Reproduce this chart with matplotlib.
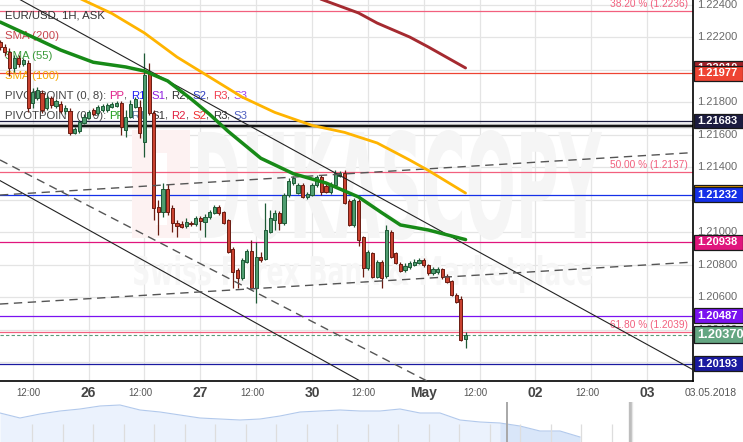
import matplotlib
matplotlib.use("Agg")
import matplotlib.pyplot as plt
import numpy as np
from matplotlib.patches import Rectangle, PathPatch
from matplotlib.textpath import TextPath
from matplotlib.font_manager import FontProperties
from matplotlib.transforms import Affine2D, blended_transform_factory

plt.rcParams['font.family'] = ['Liberation Sans', 'DejaVu Sans']

# ---------------- data ----------------
hours = list(range(-19, 82))   # hours since 26 Apr 00:00 (trading time)
opens = [
    1.22170, 1.22139, 1.22108, 1.22010, 1.22072, 1.22035, 1.22041, 1.21795, 1.21826, 1.21856,
    1.21764, 1.21826, 1.21777, 1.21789, 1.21746, 1.21746, 1.21611, 1.21623, 1.21672, 1.21703,
    1.21752, 1.21734, 1.21752, 1.21752, 1.21770, 1.21777, 1.21795, 1.21629, 1.21709, 1.21770,
    1.21770, 1.21555, 1.21979, 1.21734, 1.21156, 1.21125, 1.21266, 1.21150, 1.21057, 1.21050,
    1.21039, 1.21059, 1.21051, 1.21086, 1.21065, 1.21092, 1.21121, 1.21158, 1.21123, 1.21076,
    1.20896, 1.20769, 1.20718, 1.20820, 1.20885, 1.20660, 1.20850, 1.20834, 1.21004, 1.21076,
    1.21121, 1.21056, 1.21230, 1.21302, 1.21244, 1.21291, 1.21219, 1.21230, 1.21291, 1.21342,
    1.21285, 1.21246, 1.21291, 1.21346, 1.21363, 1.21193, 1.21045, 1.21193, 1.20970, 1.20779,
    1.20871, 1.20727, 1.20820, 1.20732, 1.21004, 1.20871, 1.20805, 1.20769, 1.20785, 1.20799,
    1.20810, 1.20830, 1.20799, 1.20748, 1.20754, 1.20773, 1.20732, 1.20701, 1.20615, 1.20590,
    1.20343]
closes = [
    1.22139, 1.22108, 1.22010, 1.22072, 1.22035, 1.22059, 1.21764, 1.21863, 1.21875, 1.21752,
    1.21826, 1.21783, 1.21807, 1.21746, 1.21764, 1.21611, 1.21635, 1.21678, 1.21709, 1.21740,
    1.21727, 1.21770, 1.21777, 1.21783, 1.21789, 1.21795, 1.21648, 1.21709, 1.21789, 1.21820,
    1.21611, 1.21967, 1.21734, 1.21150, 1.21125, 1.21266, 1.21125, 1.21057, 1.21039, 1.21035,
    1.21065, 1.21050, 1.21086, 1.21072, 1.21096, 1.21127, 1.21158, 1.21117, 1.21059, 1.20881,
    1.20758, 1.20718, 1.20830, 1.20885, 1.20660, 1.20850, 1.20830, 1.21014, 1.21086, 1.21121,
    1.21056, 1.21230, 1.21317, 1.21332, 1.21291, 1.21219, 1.21236, 1.21291, 1.21342, 1.21250,
    1.21250, 1.21291, 1.21363, 1.21365, 1.21182, 1.21045, 1.21199, 1.20953, 1.20779, 1.20881,
    1.20727, 1.20820, 1.20718, 1.21014, 1.20850, 1.20813, 1.20764, 1.20793, 1.20810, 1.20820,
    1.20830, 1.20799, 1.20748, 1.20773, 1.20775, 1.20724, 1.20697, 1.20615, 1.20574, 1.20338,
    1.20370]
highs = [
    1.22182, 1.22158, 1.22133, 1.22090, 1.22090, 1.22072, 1.22059, 1.21887, 1.21893, 1.21875,
    1.21844, 1.21838, 1.21820, 1.21807, 1.21783, 1.21764, 1.21648, 1.21691, 1.21727, 1.21752,
    1.21764, 1.21783, 1.21789, 1.21795, 1.21801, 1.21807, 1.21807, 1.21752, 1.21813, 1.21832,
    1.21813, 1.22102, 1.22041, 1.21752, 1.21199, 1.21303, 1.21297, 1.21168, 1.21076, 1.21070,
    1.21088, 1.21070, 1.21100, 1.21100, 1.21113, 1.21137, 1.21168, 1.21168, 1.21131, 1.21082,
    1.20910, 1.20781, 1.20842, 1.20898, 1.20953, 1.20943, 1.20881, 1.21180, 1.21137, 1.21137,
    1.21131, 1.21242, 1.21334, 1.21346, 1.21303, 1.21303, 1.21248, 1.21303, 1.21352, 1.21352,
    1.21297, 1.21309, 1.21383, 1.21377, 1.21383, 1.21205, 1.21211, 1.21205, 1.20978, 1.20892,
    1.20879, 1.20830, 1.20830, 1.21045, 1.21014, 1.20879, 1.20818, 1.20812, 1.20824, 1.20836,
    1.20842, 1.20842, 1.20805, 1.20787, 1.20787, 1.20781, 1.20744, 1.20707, 1.20627, 1.20609,
    1.20388]
lows = [
    1.22121, 1.22084, 1.21961, 1.21986, 1.22016, 1.22022, 1.21740, 1.21764, 1.21813, 1.21734,
    1.21752, 1.21764, 1.21764, 1.21734, 1.21727, 1.21598, 1.21604, 1.21611, 1.21666, 1.21697,
    1.21715, 1.21721, 1.21740, 1.21740, 1.21764, 1.21770, 1.21598, 1.21586, 1.21703, 1.21764,
    1.21580, 1.21463, 1.21721, 1.21076, 1.20984, 1.21094, 1.21107, 1.21002, 1.20971, 1.21027,
    1.21027, 1.21039, 1.21039, 1.21014, 1.20973, 1.21082, 1.21113, 1.21107, 1.21051, 1.20873,
    1.20658, 1.20658, 1.20707, 1.20812, 1.20652, 1.20566, 1.20818, 1.20830, 1.20996, 1.21014,
    1.21014, 1.21045, 1.21217, 1.21291, 1.21236, 1.21211, 1.21205, 1.21223, 1.21279, 1.21230,
    1.21242, 1.21236, 1.21285, 1.21340, 1.21174, 1.21039, 1.21033, 1.20916, 1.20727, 1.20769,
    1.20719, 1.20719, 1.20658, 1.20719, 1.20842, 1.20805, 1.20756, 1.20756, 1.20775, 1.20793,
    1.20805, 1.20787, 1.20738, 1.20738, 1.20744, 1.20713, 1.20689, 1.20609, 1.20566, 1.20332,
    1.20289]

sma55_h = [-19, -12, -6, 1, 8, 12, 17, 22, 26, 30, 37, 44, 51, 58, 63, 67, 73, 81]
sma55_v = [1.22292, 1.22200, 1.22120, 1.22045, 1.22016, 1.21991, 1.21930, 1.21820, 1.21725,
           1.21620, 1.21455, 1.21360, 1.21303, 1.21217, 1.21120, 1.21045, 1.21014, 1.20955]
sma100_h = [-3, 5, 12, 19, 26, 33, 40, 48, 55, 62, 69, 73, 81]
sma100_v = [1.22452, 1.22345, 1.22225, 1.22077, 1.21954, 1.21831, 1.21737, 1.21657, 1.21614,
            1.21549, 1.21444, 1.21380, 1.21241]
sma200_h = [48, 50, 58, 62, 69, 73, 81]
sma200_v = [1.22455, 1.22432, 1.22348, 1.22286, 1.22200, 1.22139, 1.22010]

# trend lines: two anchors (hour, price) each
trend_solid = [[(-16, 1.22450), (129, 1.20169)], [(-19, 1.21317), (51, 1.20203)]]
trend_dashed = [[(-19, 1.21444), (64, 1.20215)],
                [(-19, 1.21229), (130, 1.21490)],
                [(-19, 1.20559), (130, 1.20817)]]

fib_levels = [1.2236, 1.2137, 1.2039]
fib_names = ['38.20 %', '50.00 %', '61.80 %']

level_values = [1.21977, 1.21683, 1.21232, 1.20938, 1.20487, 1.20193]
level_colors = ['#ee4433', '#1c1c40', '#1530e8', '#e0157d', '#7a12f0', '#1a1aa0']
extra_black_level = 1.21652
current_price = 1.20370

grid_prices = [1.224, 1.222, 1.220, 1.218, 1.216, 1.214, 1.212, 1.210, 1.208, 1.206, 1.204, 1.202]
price_labels = [1.224, 1.222, 1.218, 1.216, 1.214, 1.210, 1.208, 1.206, 1.204]
day_ticks = [0, 24, 48, 72, 96, 120]
day_labels = ['26', '27', '30', 'May', '02', '03']
half_ticks = [-12, 12, 36, 60, 84, 108, 132]

nav_values = [29, 24, 28, 31, 33, 36, 37, 32, 30, 27, 24, 23, 22, 23, 26, 30, 31, 32, 31, 31,
              33, 29, 29, 22, 20, 19, 16, 11, 11, 5]

# ---------------- figure ----------------
W, H = 743, 442
fig = plt.figure(figsize=(W / 100, H / 100), dpi=100)
AX_W, AX_H = 693, 381
ax = fig.add_axes([0, (H - AX_H) / H, AX_W / W, AX_H / H])
XMIN, XMAX = -19.04, 129.87
YMIN, YMAX = 1.200859, 1.224277
ax.set_xlim(XMIN, XMAX)
ax.set_ylim(YMIN, YMAX)
ax.set_xticks([]); ax.set_yticks([])
for s in ['top', 'left']:
    ax.spines[s].set_visible(False)
for s in ['right', 'bottom']:
    ax.spines[s].set_linewidth(1.2)
    ax.spines[s].set_color('black')


def pa(x, y):
    """pixel inside axes -> axes fraction"""
    return x / AX_W, 1 - y / AX_H


# grid
for t in list(range(-12, 121, 12)):
    ax.axvline(t, color='#e4e4e4', lw=0.9, zorder=0)
for p in grid_prices:
    ax.axhline(p, color='#e4e4e4', lw=0.9, zorder=0)


# watermark
def wm_text(s, x0, y0, x1, y1, color, weight='bold', family='DejaVu Sans'):
    tp = TextPath((0, 0), s, size=1, prop=FontProperties(family=family, weight=weight))
    bb = tp.get_extents()
    sx = (x1 - x0) / bb.width / AX_W
    sy = (y1 - y0) / bb.height / AX_H
    fx0, fy1 = pa(x0, y1)
    tr = Affine2D().translate(-bb.x0, -bb.y0).scale(sx, sy).translate(fx0, fy1) + ax.transAxes
    ax.add_patch(PathPatch(tp, transform=tr, fc=color, ec='none', zorder=0.3))


fx, fy = pa(132, 238)
ax.add_patch(Rectangle((fx, fy), 58 / AX_W, 108 / AX_H, transform=ax.transAxes,
                       fc='#fdf2f2', ec='none', zorder=0.3))
fx, fy = pa(156, 225)
ax.add_patch(Rectangle((fx, fy), 11 / AX_W, 72 / AX_H, transform=ax.transAxes,
                       fc='white', ec='none', zorder=0.31))
wm_text('DUKASCOPY', 198, 130, 602, 240, '#f5f5f5')
wm_text('Swiss Forex Bank & Marketplace', 134, 255, 592, 293, '#f6f6f6')

# horizontal levels
for v, name in zip(fib_levels, fib_names):
    ax.axhline(v, color='#f2607e', lw=0.9, zorder=1)
    ax.annotate(f'{name} ({v:.4f})', xy=(688 / AX_W, v), xycoords=('axes fraction', 'data'),
                xytext=(0, 1.2), textcoords='offset points', ha='right', va='bottom',
                fontsize=7.3, color='#f2607e', zorder=2)
for v, c in zip(level_values, level_colors):
    ax.axhline(v, color=c, lw=0.9, zorder=1)
ax.axhline(extra_black_level, color='#aaaaaa', lw=3.2, zorder=1)
ax.axhline(extra_black_level, color='#111111', lw=1.4, zorder=1.1)
ax.axhline(current_price, color='#5a9a78', lw=0.8, ls=(0, (3, 2)), zorder=1)

# legend-like texts (under candles)
renderer = fig.canvas.get_renderer()


def multi_text(x, y, parts, fs=8.2):
    cx = x
    for s, c in parts:
        fxx, fyy = pa(cx, y)
        t = ax.text(fxx, fyy, s, color=c, fontsize=fs, va='center', ha='left',
                    transform=ax.transAxes, zorder=1.5)
        cx += t.get_window_extent(renderer).width


multi_text(5, 15, [('EUR/USD, 1H, ASK', '#333333')])
multi_text(5, 36, [('SMA (200)', '#c8464e')])
multi_text(5, 56, [('SMA (55)', '#3a9a3a')])
multi_text(5, 76, [('SMA (100)', '#f5a800')])
sep = '#444444'
multi_text(5, 96, [('PIVOTPOINT (0, 8): ', '#444444'), ('PP', '#e0208a'), (', ', sep),
                   ('R1', '#2020f0'), (', ', sep), ('S1', '#9020e0'), (', ', sep),
                   ('R2', '#333333'), (', ', sep), ('S2', '#3040c0'), (', ', sep),
                   ('R3', '#f04050'), (', ', sep), ('S3', '#a040f0')])
multi_text(5, 116, [('PIVOTPOINT (0, 9): ', '#444444'), ('PP', '#20a020'), (', ', sep),
                    ('R1', '#6080a0'), (', ', sep), ('S1', '#333333'), (', ', sep),
                    ('R2', '#e02040'), (', ', sep), ('S2', '#f03030'), (', ', sep),
                    ('R3', '#333333'), (', ', sep), ('S3', '#5060c0')])

# candles
hrs = np.array(hours, dtype=float)
o = np.array(opens); c = np.array(closes); hi = np.array(highs); lo = np.array(lows)
up = c >= o
body_up, edge_up = '#4f9d70', '#1e5a36'
body_dn, edge_dn = '#c9412f', '#6a1c12'
ax.vlines(hrs[up], lo[up], hi[up], color=edge_up, lw=0.9, zorder=3)
ax.vlines(hrs[~up], lo[~up], hi[~up], color=edge_dn, lw=0.9, zorder=3)
ax.bar(hrs[up], c[up] - o[up], bottom=o[up], width=0.68, color=body_up,
       edgecolor=edge_up, lw=0.7, zorder=3.5)
ax.bar(hrs[~up], c[~up] - o[~up], bottom=o[~up], width=0.68, color=body_dn,
       edgecolor=edge_dn, lw=0.7, zorder=3.5)

# moving averages
ax.plot(sma55_h, sma55_v, color='#178a17', lw=2.5, zorder=5, solid_capstyle='round',
        solid_joinstyle='round')
ax.plot(sma100_h, sma100_v, color='#ffb400', lw=2.0, zorder=5, solid_capstyle='round',
        solid_joinstyle='round')
ax.plot(sma200_h, sma200_v, color='#a52a30', lw=2.1, zorder=5, solid_capstyle='round',
        solid_joinstyle='round')


def extend(pts):
    (h1, p1), (h2, p2) = pts
    k = (p2 - p1) / (h2 - h1)
    return [XMIN, XMAX], [p1 + k * (XMIN - h1), p1 + k * (XMAX - h1)]


for pts in trend_solid:
    xs, ys = extend(pts)
    ax.plot(xs, ys, color='#222222', lw=0.8, zorder=4.5)
for pts in trend_dashed:
    xs, ys = extend(pts)
    ax.plot(xs, ys, color='#555555', lw=1.0, ls=(0, (6, 4)), zorder=4.5)

# right axis labels
bt = blended_transform_factory(ax.transAxes, ax.transData)
for p in price_labels:
    ax.text(1.006, p, f'{p:.5f}', transform=bt, fontsize=8, color='#6a6a6a',
            va='center', ha='left', clip_on=False, zorder=3)

PX = (YMAX - YMIN) / AX_H
box_z = [6.0]


def price_box(v, text, fc, hpx=14.5, fs=8):
    hd = hpx * PX
    z = box_z[0]
    ax.add_patch(Rectangle((1.0015, v - hd / 2), 0.0705, hd, transform=bt, fc=fc,
                           ec='#1a1a1a', lw=0.9, clip_on=False, zorder=z))
    if text:
        ax.text(1.006, v, text, transform=bt, fontsize=fs, color='white', va='center',
                ha='left', fontweight='bold', clip_on=False, zorder=z + 0.05)
    box_z[0] += 0.1


price_box(sma200_v[-1], f'{sma200_v[-1]:.5f}', '#a02028')
price_box(level_values[0], f'{level_values[0]:.5f}', level_colors[0])
price_box(level_values[1], f'{level_values[1]:.5f}', level_colors[1])
price_box(sma100_v[-1] + 0.00004, '', '#f0a000')
price_box(level_values[2], f'{level_values[2]:.5f}', level_colors[2])
price_box(level_values[3], f'{level_values[3]:.5f}', level_colors[3])
price_box(level_values[4], f'{level_values[4]:.5f}', level_colors[4])
price_box(current_price, f'{current_price:.5f}', '#64a682', hpx=17, fs=9.3)
price_box(level_values[5], f'{level_values[5]:.5f}', level_colors[5])

# time axis labels
YL = 1 - 393 / H
for t in half_ticks:
    xp = (t - XMIN) / (XMAX - XMIN) * AX_W - 4
    fig.text(xp / W, YL, '12:00', fontsize=7, color='#555555', ha='center', va='center')
for t, lab in zip(day_ticks, day_labels):
    xp = (t - XMIN) / (XMAX - XMIN) * AX_W
    fig.text(xp / W, YL, lab, fontsize=10, color='#444444', ha='center', va='center',
             fontweight='bold', family=['Liberation Sans Narrow', 'Liberation Sans'])
fig.text(711 / W, YL, '03.05.2018', fontsize=7.5, color='#555555', ha='center', va='center',
         bbox=dict(fc='white', ec='none', pad=0.6), zorder=5)

# navigator
nav = fig.add_axes([0, 0, 1, 40 / H])
nav.set_xlim(0, W)
nav.set_ylim(0, 40)
nav.axis('off')
nx = np.arange(len(nav_values)) * 20
nv = np.array(nav_values, dtype=float)
nav.fill_between(nx, 0, nv, color='#ebf2fd', lw=0)
sel = nx >= 500
nav.fill_between(nx[sel], 0, nv[sel], color='#d9e6f9', lw=0)
nav.plot(nx, nv, color='#b2c9ec', lw=0.8)
for k in range(20):
    nav.vlines(32 + 30.5 * k, 0, 18, color='#dddddd', lw=0.9)
nav.axvline(507, color='#a8a8a8', lw=1.4)
nav.axvline(630, color='#bdbdbd', lw=2.4)
nav.axvline(632, color='#e6e6e6', lw=1)

fig.savefig('out.png', dpi=100)
